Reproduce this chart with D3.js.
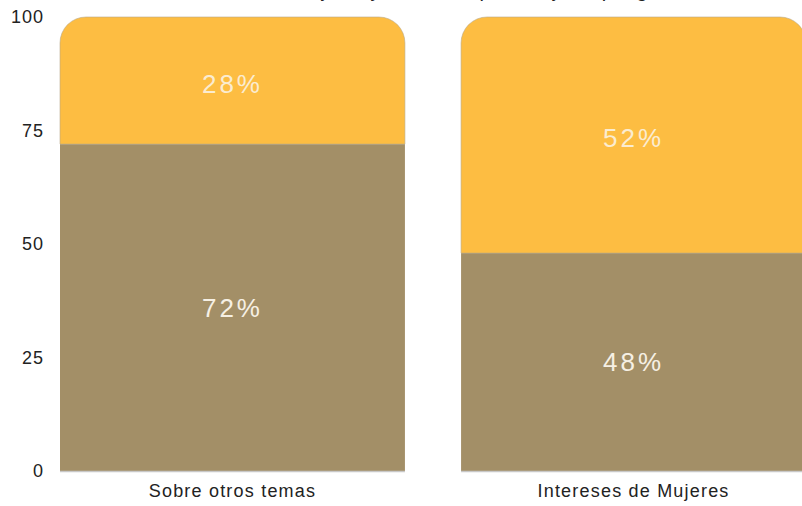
<!DOCTYPE html>
<html>
<head>
<meta charset="utf-8">
<script src="https://cdn.jsdelivr.net/npm/d3@7"></script>
<style>
  html, body { margin: 0; padding: 0; background: #fff; }
  svg { display: block; }
</style>
</head>
<body>
<svg id="chart" width="802" height="506"></svg>
<script>
const categories = ["Sobre otros temas", "Intereses de Mujeres"];
const bottomValues = [72, 48];
const topValues = [28, 52];
const yTicks = [0, 25, 50, 75, 100];
const titleText = "Noticias sobre mujeres y de interés para mujeres por género";

const svg = d3.select("#chart");
const x = d3.scaleBand().domain(categories).range([60, 806]).paddingInner(0.14).paddingOuter(0);
const y = d3.scaleLinear().domain([0, 100]).range([471, 17]);

const brown = "#a38f67";
const yellow = "#fdbd42";
const r = 26;
const font = "Liberation Sans, Arial, sans-serif";

// title (mostly cut off at the top edge, as in the reference)
svg.append("text").attr("x", 430).attr("y", -3).attr("text-anchor", "middle")
  .attr("font-family", font).attr("font-size", 20)
  .attr("fill", "#222").text(titleText);

const g = svg.append("g");
categories.forEach((c, i) => {
  const x0 = x(c), w = x.bandwidth();
  const yb = y(0), ym = y(bottomValues[i]), yt = y(bottomValues[i] + topValues[i]);
  g.append("rect").attr("x", x0).attr("y", ym).attr("width", w).attr("height", yb - ym)
    .attr("fill", brown);
  const p = d3.path();
  p.moveTo(x0, ym);
  p.lineTo(x0, yt + r);
  p.arcTo(x0, yt, x0 + r, yt, r);
  p.lineTo(x0 + w - r, yt);
  p.arcTo(x0 + w, yt, x0 + w, yt + r, r);
  p.lineTo(x0 + w, ym);
  p.closePath();
  g.append("path").attr("d", p.toString()).attr("fill", yellow)
    .attr("stroke", "#b9a98a").attr("stroke-width", 0.6);
  g.append("line").attr("x1", x0).attr("x2", x0 + w).attr("y1", yb + 0.5).attr("y2", yb + 0.5)
    .attr("stroke", "#c8c8c8").attr("stroke-width", 1.5);
  const cx = x0 + w / 2;
  g.append("text").attr("x", cx).attr("y", (ym + yb) / 2).attr("dy", "0.35em")
    .attr("text-anchor", "middle").attr("font-family", font)
    .attr("font-size", 26).attr("letter-spacing", 3).attr("fill", "#f6f0e4").text(bottomValues[i] + "%");
  g.append("text").attr("x", cx).attr("y", (yt + ym) / 2 + 3).attr("dy", "0.35em")
    .attr("text-anchor", "middle").attr("font-family", font)
    .attr("font-size", 26).attr("letter-spacing", 3).attr("fill", "#fbecd0").text(topValues[i] + "%");
});

// y axis
const yAxis = d3.axisLeft(y).tickValues(yTicks).tickSize(0).tickPadding(0);
const ya = svg.append("g").attr("transform", "translate(44,0)").call(yAxis);
ya.select(".domain").remove();
ya.selectAll("text").attr("font-family", font)
  .attr("font-size", 18).attr("letter-spacing", 1).attr("fill", "#222");

// x axis
const xAxis = d3.axisBottom(x).tickSize(0).tickPadding(0);
const xa = svg.append("g").attr("transform", "translate(0,484)").call(xAxis);
xa.select(".domain").remove();
xa.selectAll("text").attr("font-family", font)
  .attr("font-size", 18).attr("letter-spacing", 1.2).attr("fill", "#222");
</script>
</body>
</html>
